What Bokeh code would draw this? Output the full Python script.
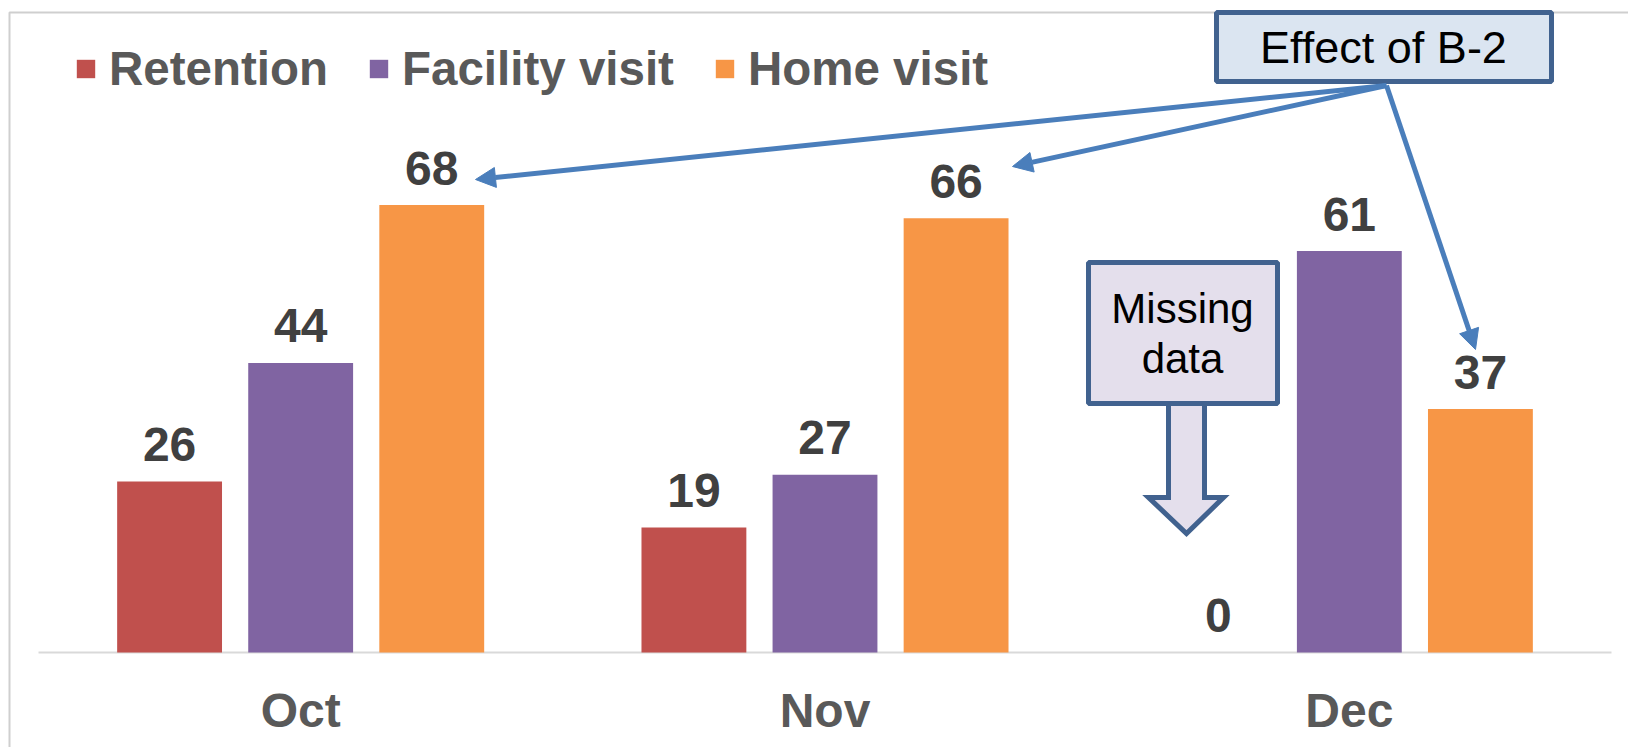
from bokeh.plotting import figure
from bokeh.models import Range1d, ColumnDataSource, Legend, LegendItem, Arrow, NormalHead
from bokeh.core.properties import value
from bokeh.embed import file_html
from bokeh.resources import INLINE

# ---- data ----
categories = ["Oct", "Nov", "Dec"]
series_names = ["Retention", "Facility visit", "Home visit"]
retention = [26, 19, 0]
facility = [44, 27, 61]
home = [68, 66, 37]
colors = ["#c0504d", "#8064a2", "#f79646"]

# ---- scale helpers (page pixel -> data) ----
X0, X3 = 38.0, 1611.0
PXU = (X3 - X0) / 3.0
BASE = 652.0
PYU = 6.58


def fx(px):
    return (px - X0) / PXU


def fy(py):
    return (BASE - py) / PYU


W, H = 1628, 747
p = figure(width=W, height=H, output_backend="svg", toolbar_location=None,
           x_range=Range1d(fx(0), fx(W)), y_range=Range1d(fy(H), fy(0)),
           x_axis_type=None, y_axis_type=None, min_border=0,
           outline_line_color=None, background_fill_color="white")
p.xgrid.visible = False
p.ygrid.visible = False

FONT = value("Liberation Sans")

# chart border (left + top)
p.line(x=[fx(9), fx(9), fx(1700)], y=[fy(800), fy(12), fy(12)], line_color="#cfcfcf", line_width=2)

# baseline
p.segment(x0=[0], y0=[0], x1=[len(categories)], y1=[0], line_color="#d9d9d9", line_width=2)

centers = [i + 0.5 for i in range(len(categories))]
offsets = [-0.25, 0.0, 0.25]
series = [retention, facility, home]
renderers = []
for s, vals, off, col in zip(series_names, series, offsets, colors):
    xs = [c + off for c in centers]
    src = ColumnDataSource(dict(x=xs, top=vals, lab=[str(v) for v in vals],
                                ly=[v + 37.0 / PYU for v in vals]))
    r = p.vbar(x="x", top="top", bottom=0, width=0.2, source=src, fill_color=col, line_color=None)
    renderers.append(r)
    p.text(x="x", y="ly", text="lab", source=src, text_font=FONT, text_font_style="bold",
           text_font_size="48px", text_color="#404040", text_align="center", text_baseline="middle")

# category labels
p.text(x=centers, y=[fy(710)] * 3, text=categories, text_font=FONT, text_font_style="bold",
       text_font_size="48px", text_color="#595959", text_align="center", text_baseline="middle")

# legend
legend = Legend(items=[LegendItem(label=n, renderers=[r]) for n, r in zip(series_names, renderers)],
                orientation="horizontal", location=(74, 747 - 69 - 27), glyph_width=23, glyph_height=23,
                label_standoff=12, spacing=39, padding=0, margin=0,
                label_text_font="Liberation Sans", label_text_font_style="bold",
                label_text_font_size="47.5px", label_text_color="#595959",
                background_fill_alpha=0, border_line_color=None)
p.add_layout(legend)

# "Effect of B-2" callout with arrows
BOX = "#41628f"
ARW = "#4a7ebb"
sx, sy = 1386, 85
for tx, ty in [(475, 179), (1012, 166), (1475, 349)]:
    p.add_layout(Arrow(end=NormalHead(size=20, fill_color=ARW, line_color=ARW, line_width=1),
                       x_start=fx(sx), y_start=fy(sy), x_end=fx(tx), y_end=fy(ty),
                       line_color=ARW, line_width=5))
p.quad(left=[fx(1216)], right=[fx(1551)], top=[fy(12)], bottom=[fy(81)],
       fill_color="#dbe5f1", line_color=BOX, line_width=5)
p.text(x=[fx(1383)], y=[fy(47)], text=["Effect of B-2"], text_font=FONT, text_font_size="45px",
       text_color="black", text_align="center", text_baseline="middle")

# "Missing data" callout (block arrow)
ax = [1168, 1204, 1204, 1223, 1186, 1148, 1168]
ay = [400, 400, 497, 497, 533, 497, 497]
p.patch(x=[fx(v) for v in ax], y=[fy(v) for v in ay], fill_color="#e4dfec", line_color=BOX,
        line_width=5, line_join="miter")
p.quad(left=[fx(1088)], right=[fx(1277)], top=[fy(262)], bottom=[fy(403)],
       fill_color="#e4dfec", line_color=BOX, line_width=5)
p.text(x=[fx(1182), fx(1182)], y=[fy(308), fy(358)], text=["Missing", "data"], text_font=FONT,
       text_font_size="42px", text_color="black", text_align="center", text_baseline="middle")

open("out.html", "w").write(file_html(p, INLINE))
